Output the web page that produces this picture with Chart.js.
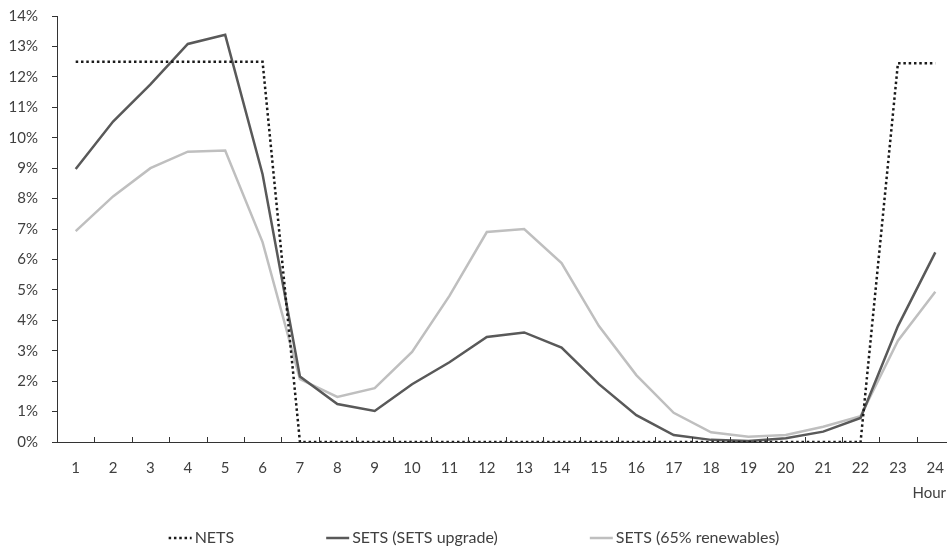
<!DOCTYPE html>
<html>
<head>
<meta charset="utf-8">
<script src="https://cdn.jsdelivr.net/npm/chart.js@4.4.0/dist/chart.umd.min.js"></script>
<style>
  html, body { margin: 0; padding: 0; background: #fff; overflow: hidden; }
  #wrap { position: relative; width: 954px; height: 548px; }
</style>
</head>
<body>
<div id="wrap"><canvas id="chart" width="954" height="548"></canvas></div>
<script>
// data (share of daily load per hour, %)
const hours = ['1', '2', '3', '4', '5', '6', '7', '8', '9', '10', '11', '12',
  '13', '14', '15', '16', '17', '18', '19', '20', '21', '22', '23', '24'];
const netsValues = [12.5, 12.5, 12.5, 12.5, 12.5, 12.5, 0, 0, 0, 0, 0, 0,
  0, 0, 0, 0, 0, 0, 0, 0, 0, 0, 12.45, 12.45];
const setsUpgradeValues = [8.97, 10.53, 11.75, 13.08, 13.38, 8.8, 2.15, 1.25, 1.02, 1.9, 2.62, 3.45,
  3.6, 3.1, 1.9, 0.88, 0.23, 0.07, 0.03, 0.12, 0.34, 0.79, 3.81, 6.23];
const setsRenewValues = [6.93, 8.07, 9.0, 9.54, 9.58, 6.57, 2.07, 1.48, 1.77, 2.96, 4.8, 6.9,
  7.0, 5.88, 3.81, 2.2, 0.96, 0.32, 0.17, 0.23, 0.5, 0.85, 3.33, 4.94];
const seriesNames = ['NETS', 'SETS (SETS upgrade)', 'SETS (65% renewables)'];

const textColor = '#404040';
const axisColor = '#333333';
const fontFamily = 'Lato, "Liberation Sans", sans-serif';

// small tick marks pointing up into the plot, between categories
const innerTicks = {
  id: 'innerTicks',
  afterDraw(chart) {
    const x = chart.scales.x;
    const ctx = chart.ctx;
    const step = x.width / hours.length;
    ctx.save();
    ctx.strokeStyle = axisColor;
    ctx.lineWidth = 1;
    ctx.beginPath();
    for (let i = 1; i <= hours.length; i++) {
      const px = Math.round(x.left + i * step) + 0.5;
      ctx.moveTo(px, x.top);
      ctx.lineTo(px, x.top - 5);
    }
    ctx.stroke();
    ctx.restore();
  }
};

// "Hour" label + spread out legend along the bottom
const bottomText = {
  id: 'bottomText',
  afterDraw(chart) {
    const ctx = chart.ctx;
    ctx.save();
    ctx.font = '15px ' + fontFamily;
    ctx.fillStyle = textColor;
    ctx.textBaseline = 'middle';
    ctx.textAlign = 'right';
    ctx.fillText('Hour', 946, 493);

    ctx.font = '16px ' + fontFamily;
    ctx.textAlign = 'left';
    const sample = 23, gap = 3, spacing = 92;
    const items = chart.data.datasets.map(ds => ({ ds, w: sample + gap + ctx.measureText(ds.label).width }));
    const total = items.reduce((s, it) => s + it.w, 0) + spacing * (items.length - 1);
    let x = 474 - total / 2;
    const y = 538;
    items.forEach(it => {
      ctx.save();
      ctx.strokeStyle = it.ds.borderColor;
      ctx.lineWidth = it.ds.borderWidth;
      ctx.setLineDash(it.ds.borderDash || []);
      ctx.beginPath();
      ctx.moveTo(x, y);
      ctx.lineTo(x + sample, y);
      ctx.stroke();
      ctx.restore();
      ctx.fillText(it.ds.label, x + sample + gap, y);
      x += it.w + spacing;
    });
    ctx.restore();
  }
};

new Chart(document.getElementById('chart'), {
  type: 'line',
  data: {
    labels: hours,
    datasets: [
      {
        label: seriesNames[0],
        data: netsValues,
        borderColor: '#1a1a1a',
        borderWidth: 2.5,
        borderDash: [2.5, 2.8],
      },
      {
        label: seriesNames[1],
        data: setsUpgradeValues,
        borderColor: '#595959',
        borderWidth: 2.5,
      },
      {
        label: seriesNames[2],
        data: setsRenewValues,
        borderColor: '#bfbfbf',
        borderWidth: 2.5,
      },
    ],
  },
  options: {
    responsive: false,
    animation: false,
    maintainAspectRatio: false,
    elements: { point: { radius: 0 }, line: { tension: 0 } },
    layout: { padding: { top: 16, left: 0, right: 0, bottom: 0 } },
    plugins: { legend: { display: false }, tooltip: { enabled: false } },
    scales: {
      x: {
        offset: true,
        grid: { display: false },
        border: { display: true, color: axisColor, width: 1 },
        ticks: { color: textColor, font: { family: fontFamily, size: 15 }, padding: 9, maxRotation: 0, autoSkip: false },
        afterFit(scale) { scale.height = 106; },
      },
      y: {
        min: 0,
        max: 14,
        grid: { drawOnChartArea: false, drawTicks: true, tickLength: 5, color: axisColor },
        border: { display: true, color: axisColor, width: 1 },
        ticks: {
          stepSize: 1,
          padding: 14,
          color: textColor,
          font: { family: fontFamily, size: 15 },
          callback: v => v + '%',
        },
        afterFit(scale) {
          scale.width = 57;
          scale.paddingTop = 0;
          scale.paddingBottom = 0;
        },
      },
    },
  },
  plugins: [innerTicks, bottomText],
});
</script>
</body>
</html>
